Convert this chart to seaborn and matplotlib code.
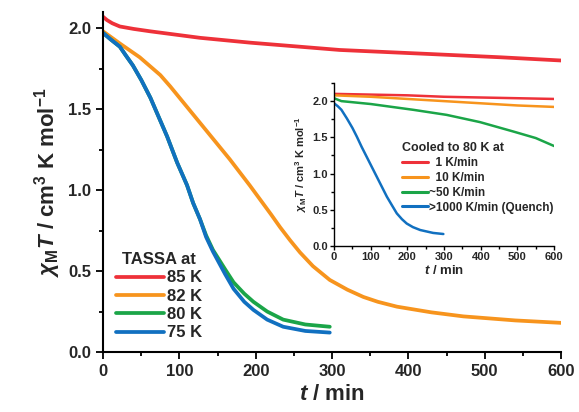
import numpy as np
import pandas as pd
import seaborn as sns
import matplotlib
matplotlib.use("Agg")
import matplotlib.pyplot as plt
from matplotlib.ticker import MultipleLocator

# main plot: TASSA at different temperatures
main_labels = ["85 K", "82 K", "80 K", "75 K"]
t_85 = [0, 5, 12, 22, 40, 62, 127, 193, 258, 310, 428, 520, 600]
v_85 = [2.07, 2.05, 2.03, 2.01, 1.995, 1.98, 1.94, 1.91, 1.885, 1.865, 1.84, 1.82, 1.80]
t_82 = [0, 22, 48, 75, 88, 101, 114, 127, 140, 153, 166, 179, 192, 206, 220, 232, 245, 258,
        275, 297, 320, 341, 360, 385, 430, 472, 540, 600]
v_82 = [1.98, 1.905, 1.82, 1.71, 1.64, 1.565, 1.49, 1.415, 1.34, 1.265, 1.19, 1.11, 1.03,
        0.94, 0.85, 0.77, 0.69, 0.615, 0.53, 0.445, 0.385, 0.34, 0.31, 0.28, 0.245, 0.22,
        0.195, 0.18]
t_80 = [0, 10, 22, 30, 39, 50, 62, 73, 84, 97, 110, 118, 127, 135, 144, 152, 160, 171, 185,
        197, 215, 236, 265, 297]
v_80 = [1.97, 1.93, 1.885, 1.83, 1.77, 1.68, 1.57, 1.45, 1.33, 1.17, 1.03, 0.92, 0.82, 0.72,
        0.63, 0.57, 0.51, 0.43, 0.36, 0.31, 0.25, 0.20, 0.17, 0.156]
t_75 = [0, 10, 22, 30, 39, 50, 62, 73, 84, 97, 110, 118, 127, 135, 144, 152, 160, 171, 185,
        197, 215, 236, 265, 297]
v_75 = [1.97, 1.93, 1.885, 1.83, 1.77, 1.68, 1.57, 1.45, 1.33, 1.17, 1.03, 0.92, 0.82, 0.71,
        0.62, 0.55, 0.48, 0.39, 0.31, 0.26, 0.20, 0.156, 0.13, 0.12]

# inset: cooled to 80 K at different rates
inset_labels = ["  1 K/min", "  10 K/min", "~50 K/min", ">1000 K/min (Quench)"]
t_1 = [0, 100, 200, 300, 400, 500, 600]
v_1 = [2.10, 2.09, 2.08, 2.06, 2.05, 2.04, 2.03]
t_10 = [0, 100, 200, 300, 400, 500, 600]
v_10 = [2.08, 2.06, 2.03, 2.00, 1.97, 1.94, 1.92]
t_50 = [0, 10, 20, 100, 216, 307, 398, 489, 550, 600]
v_50 = [2.04, 2.02, 2.00, 1.96, 1.88, 1.81, 1.71, 1.58, 1.49, 1.38]
t_q = [0, 10, 20, 35, 50, 62, 75, 89, 103, 116, 130, 144, 158, 171, 185, 198, 215, 235, 270, 298]
v_q = [1.97, 1.93, 1.88, 1.76, 1.63, 1.51, 1.37, 1.23, 1.09, 0.96, 0.82, 0.68, 0.56, 0.45,
       0.37, 0.31, 0.26, 0.22, 0.18, 0.165]

colors = ["#EE3139", "#F7941D", "#1BA548", "#1170C0"]

def long_df(ts, vs, labels):
    frames = [pd.DataFrame({"t": t, "v": v, "s": lab}) for t, v, lab in zip(ts, vs, labels)]
    return pd.concat(frames, ignore_index=True)

main_df = long_df([t_85, t_82, t_80, t_75], [v_85, v_82, v_80, v_75], main_labels)
inset_df = long_df([t_1, t_10, t_50, t_q], [v_1, v_10, v_50, v_q], inset_labels)

sns.set_theme(style="ticks")
plt.rcParams["font.family"] = ["Liberation Sans", "DejaVu Sans"]
plt.rcParams["font.weight"] = "bold"
plt.rcParams["mathtext.fontset"] = "custom"
plt.rcParams["mathtext.rm"] = "Liberation Sans:bold"
plt.rcParams["mathtext.bf"] = "Liberation Sans:bold"
plt.rcParams["mathtext.it"] = "Liberation Sans:italic:bold"

fig = plt.figure(figsize=(5.79, 4.12), dpi=100)
ax = fig.add_axes([0.178, 0.1456, 0.791, 0.8255])

sns.lineplot(data=main_df, x="t", y="v", hue="s", palette=colors, lw=2.7,
             sort=False, ax=ax)
ax.set_xlim(0, 600)
ax.set_ylim(0, 2.1)
ax.xaxis.set_major_locator(MultipleLocator(100))
ax.xaxis.set_minor_locator(MultipleLocator(50))
ax.yaxis.set_major_locator(MultipleLocator(0.5))
ax.yaxis.set_minor_locator(MultipleLocator(0.25))
ax.tick_params(which="both", direction="out", width=1.3, labelsize=12, color="black")
ax.tick_params(which="major", length=5)
ax.tick_params(which="minor", length=3)
for sp in ["left", "bottom"]:
    ax.spines[sp].set_linewidth(1.5)
    ax.spines[sp].set_color("black")
sns.despine(ax=ax)
ax.set_xlabel(r"$t$ / min", fontsize=16, fontweight="bold", labelpad=4)
ax.set_ylabel(r"$\chi_{\rm M}T$ / cm$^{3}$ K mol$^{-1}$", fontsize=16, fontweight="bold", labelpad=4)
leg = ax.legend(title="TASSA at", loc="lower left", bbox_to_anchor=(-0.005, -0.01),
                frameon=False, fontsize=12, title_fontsize=12, handlelength=2.9,
                handletextpad=0.15, labelspacing=0.2)
leg.get_title().set_fontweight("bold")
for line in leg.get_lines():
    line.set_linewidth(2.7)

ins = fig.add_axes([0.577, 0.403, 0.380, 0.3955])
sns.lineplot(data=inset_df, x="t", y="v", hue="s", palette=colors, lw=1.8,
             sort=False, ax=ins)
ins.set_xlim(0, 600)
ins.set_ylim(0, 2.25)
ins.xaxis.set_major_locator(MultipleLocator(100))
ins.xaxis.set_minor_locator(MultipleLocator(50))
ins.yaxis.set_major_locator(MultipleLocator(0.5))
ins.yaxis.set_minor_locator(MultipleLocator(0.25))
ins.tick_params(which="both", direction="out", width=1.0, labelsize=8, color="black", pad=1.5)
ins.tick_params(which="major", length=3)
ins.tick_params(which="minor", length=2)
for sp in ["left", "bottom"]:
    ins.spines[sp].set_linewidth(1.0)
    ins.spines[sp].set_color("black")
sns.despine(ax=ins)
ins.set_xlabel(r"$t$ / min", fontsize=9.5, fontweight="bold", labelpad=1.5)
ins.set_ylabel(r"$\chi_{\rm M}T$ / cm$^{3}$ K mol$^{-1}$", fontsize=8, fontweight="bold", labelpad=2)
leg2 = ins.legend(title="Cooled to 80 K at", loc="upper left", bbox_to_anchor=(0.27, 0.69),
                  frameon=False, fontsize=8.5, title_fontsize=9, handlelength=2.2,
                  handletextpad=0.1, labelspacing=0.25, borderpad=0.2)
leg2.get_title().set_fontweight("bold")
leg2._legend_box.align = "left"
for line in leg2.get_lines():
    line.set_linewidth(2.2)

fig.savefig("out.png", dpi=100)
